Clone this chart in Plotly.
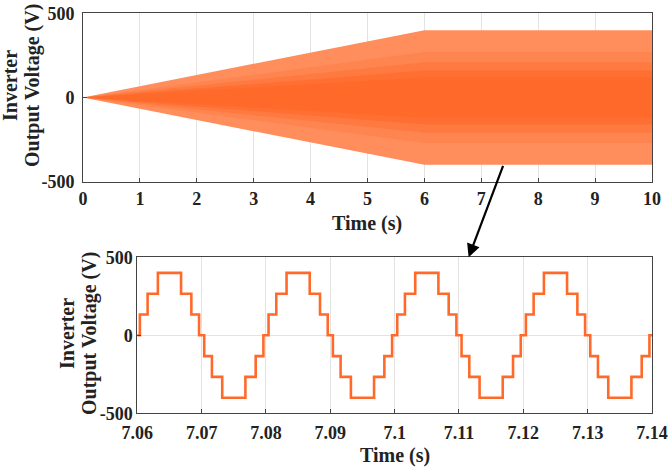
import plotly.graph_objects as go

# ---------------- data ----------------
# Top panel: envelope of the inverter output voltage (ramp 0 -> 400 V until 6 s)
env_t = [0, 6, 10]
env_bands = [
    ([0, 400, 400], "#FF8E5C"),   # peak amplitude (sparse edge)
    ([0, 270, 270], "#FF8550"),
    ([0, 210, 210], "#FF7A40"),
    ([0, 160, 160], "#FF6F32"),
    ([0, 120, 120], "#FF6A2B"),   # dense centre
]

top_xticks = [0, 1, 2, 3, 4, 5, 6, 7, 8, 9, 10]
y_ticks = [-500, 0, 500]
y_ticklabels = ["-500", "0", "500"]

# Bottom panel: zoomed staircase (7-level) waveform, switching instants (s) and levels (V)
step_t = [
    7.0604, 7.0616, 7.0632, 7.0668, 7.0684, 7.0696, 7.0704, 7.0716, 7.0732, 7.0768, 7.0784, 7.0796,
    7.0804, 7.0816, 7.0832, 7.0868, 7.0884, 7.0896, 7.0904, 7.0916, 7.0932, 7.0968, 7.0984, 7.0996,
    7.1004, 7.1016, 7.1032, 7.1068, 7.1084, 7.1096, 7.1104, 7.1116, 7.1132, 7.1168, 7.1184, 7.1196,
    7.1204, 7.1216, 7.1232, 7.1268, 7.1284, 7.1296, 7.1304, 7.1316, 7.1332, 7.1368, 7.1384, 7.1396,
]
step_v = [
    133.3, 266.7, 400, 266.7, 133.3, 0, -133.3, -266.7, -400, -266.7, -133.3, 0,
    133.3, 266.7, 400, 266.7, 133.3, 0, -133.3, -266.7, -400, -266.7, -133.3, 0,
    133.3, 266.7, 400, 266.7, 133.3, 0, -133.3, -266.7, -400, -266.7, -133.3, 0,
    133.3, 266.7, 400, 266.7, 133.3, 0, -133.3, -266.7, -400, -266.7, -133.3, 0,
]
zoom_start, zoom_end = 7.06, 7.14
bottom_xticks = [7.06, 7.07, 7.08, 7.09, 7.10, 7.11, 7.12, 7.13, 7.14]
bottom_xlabels = ["7.06", "7.07", "7.08", "7.09", "7.1", "7.11", "7.12", "7.13", "7.14"]

# arrow head position (bottom panel top edge)
arrow_to = (7.1115, 500)

# ---------------- figure ----------------
W, H = 669, 467
FONT = "Liberation Serif"
ORANGE = "#FF6A2B"

fig = go.Figure()
for amp, col in env_bands:
    xs = env_t + env_t[::-1]
    ys = amp + [-a for a in amp[::-1]]
    fig.add_trace(go.Scatter(x=xs, y=ys, fill="toself", fillcolor=col, mode="lines",
                             line=dict(width=0), hoverinfo="skip", showlegend=False,
                             xaxis="x", yaxis="y"))

fig.add_trace(go.Scatter(x=[zoom_start] + step_t + [zoom_end], y=[0] + step_v + [0],
                         mode="lines", line=dict(color=ORANGE, width=2.6, shape="hv"),
                         showlegend=False, xaxis="x2", yaxis="y2"))

def px(x):
    return x / W

def py(y):
    return 1 - y / H

axis_common = dict(
    showline=True, mirror=True, linecolor="#444444", linewidth=1,
    ticks="inside", ticklen=4, tickcolor="#444444", automargin=False,
    showgrid=True, gridcolor="#E3E3E3", gridwidth=1, zeroline=False,
    tickfont=dict(family=FONT, size=18, color="#222222", weight="bold"),
)

fig.update_layout(
    width=W, height=H, autosize=False,
    margin=dict(l=0, r=0, t=0, b=0, pad=0, autoexpand=False),
    paper_bgcolor="white", plot_bgcolor="white",
    xaxis=dict(domain=[px(83), px(652)], range=[0, 10], tickvals=top_xticks,
               anchor="y", ticklabelstandoff=1, **axis_common),
    yaxis=dict(domain=[py(181.7), py(13.3)], range=[-500, 500], tickvals=y_ticks,
               ticktext=y_ticklabels, anchor="x", ticklabelstandoff=4, **axis_common),
    xaxis2=dict(domain=[px(137.3), px(652)], range=[zoom_start, zoom_end],
                tickvals=bottom_xticks, ticktext=bottom_xlabels,
                anchor="y2", ticklabelstandoff=3, **axis_common),
    yaxis2=dict(domain=[py(413.3), py(257.3)], range=[-500, 500], tickvals=y_ticks,
                ticktext=y_ticklabels, anchor="x2", ticklabelstandoff=0, **axis_common),
)

xt_font = dict(family=FONT, size=20, color="#222222", weight="bold")
yt_font = dict(family=FONT, size=20, color="#222222", weight="bold")
anns = [
    dict(text="Time (s)", x=px(367), y=py(223), font=xt_font),
    dict(text="Time (s)", x=px(395), y=py(455), font=xt_font),
    dict(text="Inverter", x=px(10), y=py(86), textangle=-90, font=yt_font),
    dict(text="Output Voltage (V)", x=px(32), y=py(86), textangle=-90, font=yt_font),
    dict(text="Inverter", x=px(67), y=py(334), textangle=-90, font=yt_font),
    dict(text="Output Voltage (V)", x=px(89), y=py(334), textangle=-90, font=yt_font),
]
for a in anns:
    fig.add_annotation(xref="paper", yref="paper", xanchor="center", yanchor="middle",
                       showarrow=False, **a)

fig.add_annotation(x=arrow_to[0], y=arrow_to[1], xref="x2", yref="y2",
                   ax=35, ay=-93, axref="pixel", ayref="pixel",
                   text="", showarrow=True, arrowhead=2, arrowsize=1.2,
                   arrowwidth=2.2, arrowcolor="black", standoff=0)

fig.write_html("out.html")
